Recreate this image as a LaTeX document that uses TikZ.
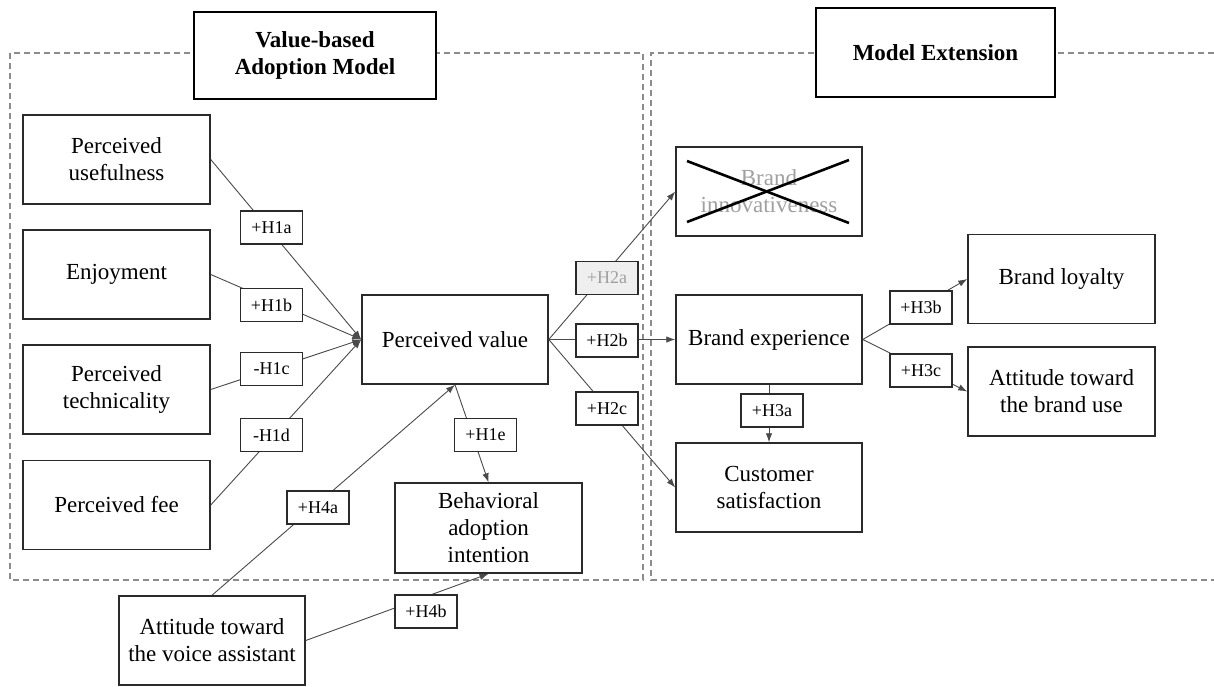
\documentclass[tikz,border=0pt]{standalone}
\usepackage{fontspec}
\setmainfont{Liberation Serif}
\usetikzlibrary{arrows.meta,calc}
\newcommand\mybodyfnt{\fontsize{23}{27}\selectfont}
\newcommand\myheadfnt{\fontsize{23}{27}\selectfont\bfseries}
\newcommand\mylblfnt{\fontsize{18}{20}\selectfont}
\definecolor{edgegray}{HTML}{2A2A2A}
\definecolor{conngray}{HTML}{4A4A4A}
\definecolor{dashgray}{HTML}{8C8C8C}
\definecolor{fadetext}{HTML}{A0A0A0}
\definecolor{fadefill}{HTML}{EFEFEF}
\begin{document}
\begin{tikzpicture}[x=1pt,y=-1pt,
  box/.style={draw=edgegray, line width=1.5pt, minimum width=187pt, minimum height=89pt, align=center, inner sep=2pt, font=\mybodyfnt},
  headbox/.style={draw=black, line width=1.6pt, fill=white, align=center, inner sep=2pt, font=\myheadfnt},
  lbl/.style={draw=edgegray, line width=1.4pt, fill=white, minimum width=62pt, minimum height=33pt, inner sep=1pt, font=\mylblfnt},
  conn/.style={draw=conngray, line width=0.9pt, -{Latex[length=9pt,width=6.5pt]}},
  frame/.style={draw=dashgray, line width=1.1pt, dash pattern=on 6pt off 4pt}]
\useasboundingbox (0,0) rectangle (1214,686);
\fill[white] (0,0) rectangle (1214,686);

% dashed frames
\draw[frame] (10,53) rectangle (643,580);
\draw[frame] (1214,53) -- (651,53) -- (651,580) -- (1214,580);

% headers
\node[headbox, minimum width=242pt, minimum height=87pt] (hd1) at (315,55.5) {Value-based\\Adoption Model};
\node[headbox, minimum width=239pt, minimum height=89pt] (hd2) at (935.5,52.5) {Model Extension};

% construct boxes
\node[box] (pu) at (116.5,159.5) {Perceived\\usefulness};
\node[box] (enj) at (116.5,274.5) {Enjoyment};
\node[box] (pt) at (116.5,389.5) {Perceived\\technicality};
\node[box] (pf) at (116.5,505) {Perceived fee};
\node[box, minimum width=186pt] (pv) at (455,339.5) {Perceived value};
\node[box, minimum height=90pt] (bai) at (488.5,528) {Behavioral\\adoption\\intention};
\node[box, minimum width=186pt] (atva) at (212,640.5) {Attitude toward\\the voice assistant};
\node[box, minimum width=186pt, text=fadetext] (bi) at (769,191.5) {Brand\\innovativeness};
\node[box, minimum width=186pt] (be) at (769,339.5) {Brand experience};
\node[box, minimum width=186pt] (cs) at (769,487.5) {Customer\\satisfaction};
\node[box] (bl) at (1061.5,279) {Brand loyalty};
\node[box] (atbu) at (1061.5,391.5) {Attitude toward\\the brand use};

% crossed-out construct
\draw[line width=2.6pt, black] ($(bi.center)+(-82,-30.5)$) -- ($(bi.center)+(80,31.5)$);
\draw[line width=2.6pt, black] ($(bi.center)+(-82,30.5)$) -- ($(bi.center)+(80,-31.5)$);

% connectors
\draw[conn] (pu.east) -- (pv.west);
\draw[conn] (enj.east) -- (pv.west);
\draw[conn] (pt.east) -- (pv.west);
\draw[conn] (pf.east) -- (pv.west);
\draw[conn] (atva.north) -- (pv.south);
\draw[conn] (pv.south) -- (bai.north);
\draw[conn] (atva.east) -- (bai.south);
\draw[conn] (pv.east) -- (bi.west);
\draw[conn] (pv.east) -- (be.west);
\draw[conn] (pv.east) -- (cs.west);
\draw[conn] (be.south) -- (cs.north);
\draw[conn] (be.east) -- (bl.west);
\draw[conn] (be.east) -- (atbu.west);

% hypothesis labels
\node[lbl] (h1a) at (271.5,227.5) {+H1a};
\node[lbl] (h1b) at (271.5,305) {+H1b};
\node[lbl] (h1c) at (271.5,369) {-H1c};
\node[lbl] (h1d) at (271.5,435) {-H1d};
\node[lbl] (h1e) at (485.5,435) {+H1e};
\node[lbl] (h4a) at (318,507.5) {+H4a};
\node[lbl] (h4b) at (426,611.5) {+H4b};
\node[lbl, fill=fadefill, text=fadetext] (h2a) at (607,278) {+H2a};
\node[lbl] (h2b) at (607,340.5) {+H2b};
\node[lbl] (h2c) at (607,408.5) {+H2c};
\node[lbl] (h3a) at (772,410.5) {+H3a};
\node[lbl] (h3b) at (921,307.5) {+H3b};
\node[lbl] (h3c) at (921,370.5) {+H3c};
\end{tikzpicture}
\end{document}
